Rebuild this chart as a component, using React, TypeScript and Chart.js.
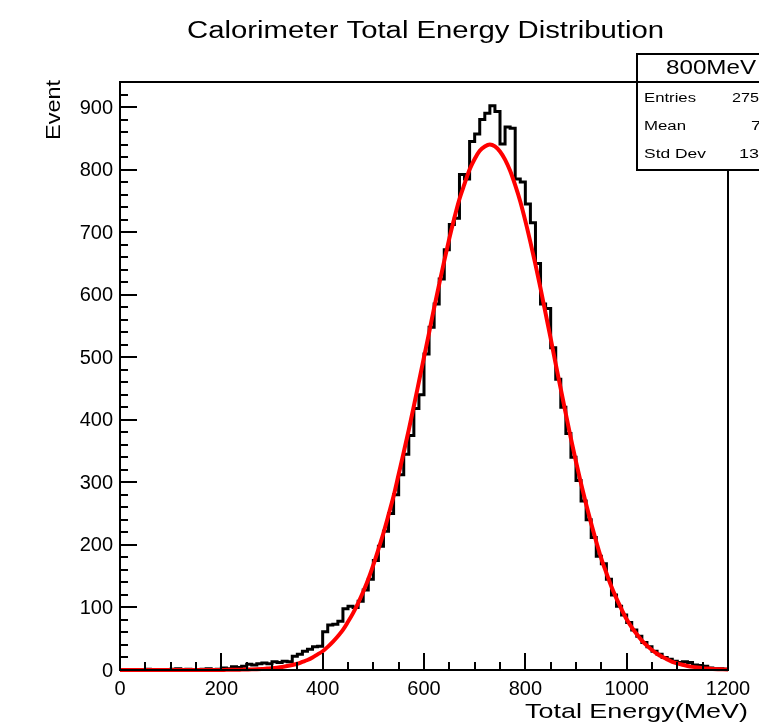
import React, { useEffect, useRef } from "react";
import { Chart, registerables } from "chart.js";

Chart.register(...registerables);

// ---------- data ----------
const BIN_WIDTH = 10; // MeV
const X_MIN = 0;
const X_MAX = 1200;
const Y_MAX = 940;

// histogram counts, bins of 10 MeV from 0 to 1200
const histCounts = [
  0, 0, 0, 0, 0, 1, 0, 0, 0, 0,
  1, 2, 0, 1, 0, 0, 1, 2, 0, 1,
  3, 2, 5, 4, 6, 9, 8, 10, 11, 10,
  13, 12, 14, 13, 22, 25, 30, 33, 37, 38,
  61, 72, 73, 78, 98, 102, 100, 110, 128, 145,
  175, 198, 222, 250, 280, 312, 345, 375, 418, 440,
  505, 548, 585, 625, 672, 712, 722, 792, 785, 845,
  857, 880, 890, 902, 893, 841, 868, 866, 785, 780,
  745, 715, 650, 585, 578, 515, 465, 420, 378, 340,
  303, 270, 240, 212, 182, 170, 145, 120, 102, 88,
  76, 64, 54, 44, 37, 30, 25, 20, 17, 14,
  12, 13, 12, 8, 7, 6, 3, 2, 2, 1,
];

// fitted curve sampled every 10 MeV from 0 to 1200
const fitValues = [
  0, 0, 0, 0, 0, 0, 0, 0, 0, 0,
  0, 0, 0, 0, 0, 0, 0, 0, 0, 0,
  0.15, 0.2, 0.3, 0.4, 0.6, 0.8, 1.0, 1.3, 1.7, 2.3,
  2.9, 3.8, 4.9, 6.3, 8, 10, 13, 16, 20, 25,
  30, 37, 45, 54, 64, 77, 91, 107, 125, 145,
  168, 193, 219, 248, 278, 313, 348, 384, 422, 461,
  500, 539, 579, 617, 654, 690, 723, 753, 777, 800,
  817, 830, 837, 840, 837, 829, 816, 798, 775, 749,
  718, 684, 648, 610, 570, 530, 489, 449, 409, 370,
  333, 298, 265, 234, 205, 178, 155, 133, 114, 97,
  81, 68, 57, 47, 39, 32, 26, 21, 17, 13,
  10.5, 8.3, 6.5, 5, 3.9, 3, 2.3, 1.7, 1.3, 1.0,
  0.7,
];

const xTickLabels = ["0", "200", "400", "600", "800", "1000", "1200"];
const yTickLabels = ["0", "100", "200", "300", "400", "500", "600", "700", "800", "900"];

const titleText = "Calorimeter Total Energy Distribution";
const xTitle = "Total Energy(MeV)";
const yTitle = "Event";
const statsTitle = "800MeV";
const statsNames = ["Entries", "Mean", "Std Dev"];
const statsValues = ["27500", "727.6", "133.4"];

// ---------- helpers ----------
const FONT = '"Liberation Sans", Arial, Helvetica, sans-serif';

function drawText(
  ctx: CanvasRenderingContext2D,
  text: string,
  x: number,
  y: number,
  size: number,
  align: CanvasTextAlign,
  targetWidth?: number,
  rotate?: number
) {
  ctx.save();
  ctx.font = `${size}px ${FONT}`;
  ctx.textBaseline = "middle";
  ctx.textAlign = align;
  ctx.fillStyle = "#000";
  ctx.translate(x, y);
  if (rotate) ctx.rotate(rotate);
  if (targetWidth) {
    const w = ctx.measureText(text).width;
    ctx.scale(targetWidth / w, 1);
  }
  ctx.fillText(text, 0, 0);
  ctx.restore();
}

const rootDecor = {
  id: "rootDecor",
  beforeDraw(chart: any) {
    const ctx = chart.ctx as CanvasRenderingContext2D;
    ctx.save();
    ctx.fillStyle = "#fff";
    ctx.fillRect(0, 0, chart.width, chart.height);
    ctx.restore();
  },
  afterDatasetsDraw(chart: any) {
    const ctx = chart.ctx as CanvasRenderingContext2D;
    const { left, right, top, bottom } = chart.chartArea;
    const xs = chart.scales.x;
    const ys = chart.scales.y;

    ctx.save();
    ctx.strokeStyle = "#000";
    ctx.lineWidth = 2;
    ctx.lineCap = "butt";
    // frame
    ctx.strokeRect(left, top, right - left, bottom - top);

    // y ticks (inward)
    for (let v = 0; v <= Y_MAX; v += 20) {
      const py = Math.round(ys.getPixelForValue(v));
      const len = v % 100 === 0 ? 17 : 8;
      ctx.beginPath();
      ctx.moveTo(left, py);
      ctx.lineTo(left + len, py);
      ctx.stroke();
    }
    // x ticks (inward)
    for (let v = X_MIN; v <= X_MAX; v += 50) {
      const px = Math.round(xs.getPixelForValue(v));
      const len = v % 200 === 0 ? 17 : 8;
      ctx.beginPath();
      ctx.moveTo(px, bottom);
      ctx.lineTo(px, bottom - len);
      ctx.stroke();
    }
    ctx.restore();

    // tick labels
    yTickLabels.forEach((lab) => {
      drawText(ctx, lab, 113, ys.getPixelForValue(Number(lab)) + 1, 20, "right");
    });
    xTickLabels.forEach((lab) => {
      drawText(ctx, lab, xs.getPixelForValue(Number(lab)), 689, 20, "center");
    });

    // titles
    drawText(ctx, titleText, 187, 32, 23, "left", 477);
    drawText(ctx, xTitle, 748, 712, 21, "right", 223);
    drawText(ctx, yTitle, 54, 80, 21, "right", 60, -Math.PI / 2);

    // stats box
    ctx.save();
    ctx.fillStyle = "#fff";
    ctx.fillRect(637, 54, 160, 116);
    ctx.strokeStyle = "#000";
    ctx.lineWidth = 2;
    ctx.strokeRect(637, 54, 160, 116);
    ctx.beginPath();
    ctx.moveTo(637, 82);
    ctx.lineTo(797, 82);
    ctx.stroke();
    ctx.restore();

    drawText(ctx, statsTitle, 666, 68, 21, "left", 90);
    const rowY = [99, 127, 155];
    const nameW = [52, 42, 62];
    const valX = [732, 751, 739];
    statsNames.forEach((n, i) => {
      drawText(ctx, n, 644, rowY[i], 12, "left", nameW[i]);
      const w = statsValues[i].length * 9;
      drawText(ctx, statsValues[i], valX[i], rowY[i], 12, "left", w);
    });
  },
};

export default function App() {
  const canvasRef = useRef<HTMLCanvasElement | null>(null);

  useEffect(() => {
    const canvas = canvasRef.current;
    if (!canvas) return;

    // bin edges: each count spans [edge, edge + BIN_WIDTH]
    const histPoints = [{ x: X_MIN, y: histCounts[0] }];
    histCounts.forEach((c, i) => {
      histPoints.push({ x: X_MIN + (i + 1) * BIN_WIDTH, y: c });
    });
    const fitPoints = fitValues.map((v, i) => ({ x: X_MIN + i * BIN_WIDTH, y: v }));

    const chart = new Chart(canvas, {
      type: "line",
      data: {
        datasets: [
          {
            label: "fit",
            data: fitPoints,
            borderColor: "#ff0000",
            borderWidth: 4,
            pointRadius: 0,
            cubicInterpolationMode: "monotone",
            fill: false,
            clip: 6,
            order: 0,
          } as any,
          {
            label: "hist",
            data: histPoints,
            borderColor: "#000000",
            borderWidth: 3,
            pointRadius: 0,
            stepped: "after",
            fill: false,
            clip: 6,
            order: 1,
          } as any,
        ],
      },
      options: {
        responsive: false,
        animation: false,
        devicePixelRatio: 1,
        layout: { padding: { left: 120, right: 31, top: 82, bottom: 54 } },
        scales: {
          x: { type: "linear", min: X_MIN, max: X_MAX, display: false },
          y: { type: "linear", min: 0, max: Y_MAX, display: false },
        },
        plugins: {
          legend: { display: false },
          tooltip: { enabled: false },
          title: { display: false },
        },
        events: [],
      },
      plugins: [rootDecor],
    });
    return () => chart.destroy();
  }, []);

  return (
    <div style={{ position: "fixed", left: 0, top: 0, width: 759, height: 724, background: "#fff" }}>
      <canvas ref={canvasRef} width={759} height={724} style={{ display: "block" }} />
    </div>
  );
}
